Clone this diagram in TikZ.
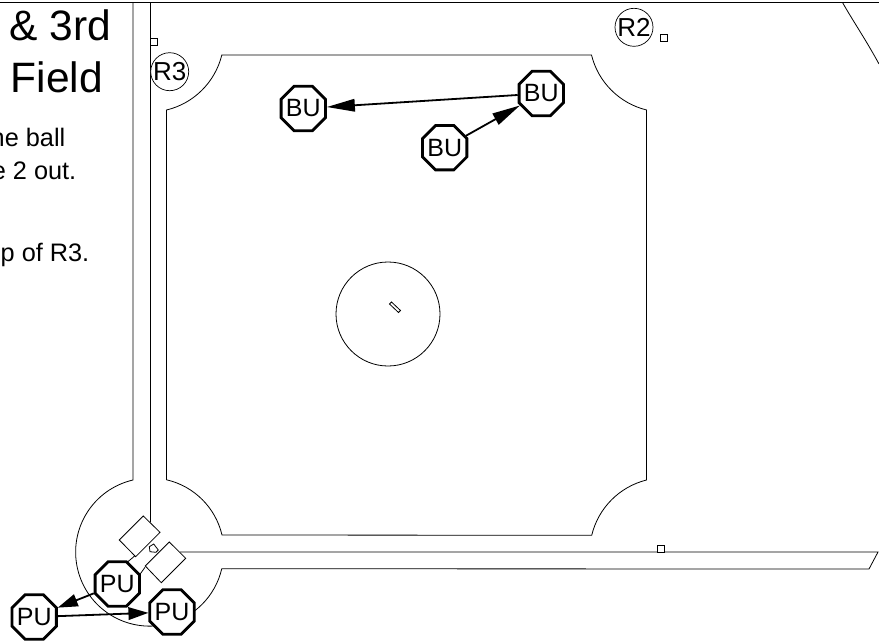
\documentclass[tikz,border=0pt]{standalone}
\usepackage{fontspec}
\setmainfont{Liberation Sans}
\usetikzlibrary{arrows.meta,shapes.geometric}
\tikzset{
  fieldline/.style={draw=black,line width=.8pt},
  basebox/.style={draw=black,line width=.8pt,fill=white},
  umpire/.style={regular polygon,regular polygon sides=8,draw=black,fill=white,line width=2.8pt,minimum size=48pt,inner sep=-8pt,font=\fontsize{25}{26}\selectfont},
  runner/.style={circle,draw=black,fill=white,line width=.7pt,minimum size=38pt,inner sep=-4pt,font=\fontsize{26}{27}\selectfont},
  move/.style={-{Triangle[length=28pt,width=12.5pt]},draw=black,line width=1.8pt},
  shortmove/.style={-{Triangle[length=20pt,width=12.5pt]},draw=black,line width=1.8pt},
  headline/.style={anchor=base east,font=\fontsize{42.5}{44}\selectfont,inner sep=0pt},
  note/.style={anchor=base east,font=\fontsize{25.3}{26}\selectfont,inner sep=0pt}
}
\begin{document}
\begin{tikzpicture}[x=1pt,y=-1pt]
  \useasboundingbox (0,0) rectangle (879,641);
  % top edge and the outfield corner
  \draw[fieldline] (0,2.5) -- (879,2.5);
  \draw[fieldline] (842.5,2.5) .. controls (853,21) and (866,40) .. (879,64);
  % foul territory with home circle
  \draw[fieldline] (133,2.5) -- (133,480) arc[start angle=-103,end angle=-347,radius=74] -- (869,569) -- (878,552) -- (180,552);
  \draw[fieldline] (150,2.5) -- (150,521.5);
  % infield
  \draw[fieldline] (166.5,480) -- (166.5,110) arc[start angle=76.5,end angle=13.8,radius=75]
    -- (591.5,55) arc[start angle=166.2,end angle=103.8,radius=75]
    -- (646.5,480) arc[start angle=-104,end angle=-166.5,radius=75]
    -- (222,535) arc[start angle=-13.2,end angle=-76.7,radius=74];
  % mound
  \draw[fieldline] (388,314) circle[radius=52];
  \draw[fieldline] (391.5,302) -- (400.5,310.5) -- (398.5,312.5) -- (389.5,304) -- cycle;
  % bases
  \draw[basebox] (150,38.5) rectangle (157,45.5);
  \draw[basebox] (660.5,34.5) rectangle (667.5,41.5);
  \draw[basebox] (657,545) rectangle (664,552);
  % batter boxes and plate
  \draw[fieldline] (135,555.7) -- (126.7,562.7);
  \draw[fieldline] (145,567.3) -- (140,574.3);
  \draw[basebox] (143.3,516) -- (160,532.3) -- (135.7,556.7) -- (119.3,540) -- cycle;
  \draw[basebox] (169.3,542) -- (185.7,558.3) -- (161.3,582.7) -- (145.3,566) -- cycle;
  \draw[basebox] (149.3,546.7) -- (153.7,544) -- (158.3,550) -- (156,552.3) -- (150,551.7) -- cycle;
  % text
  \node[headline] (title1) at (111.5,40.7) {\& 3rd};
  \node[headline] (title2) at (103,92.7) {Field};
  \node[note] (note1) at (65.5,146) {ne ball};
  \node[note] (note2) at (76.5,179.3) {e 2 out.};
  \node[note] (note3) at (89.5,261.7) {p of R3.};
  % runners
  \node[runner] (rtwo) at (634,27.3) {R2};
  \node[runner] (rthree) at (169.7,71.7) {R3};
  % umpires
  \node[umpire] (buleft) at (303.3,108.5) {BU};
  \node[umpire] (buright) at (541.3,93.5) {BU};
  \node[umpire] (bulow) at (444.7,147.7) {BU};
  \node[umpire] (putop) at (117.3,584) {PU};
  \node[umpire] (puleft) at (34.2,617) {PU};
  \node[umpire] (puright) at (172,612) {PU};
  \draw[move] (bulow) -- (buright);
  \draw[move] (buright) -- (buleft);
  \draw[shortmove] (putop) -- (puleft);
  \draw[shortmove] (puleft) -- (puright);
\end{tikzpicture}
\end{document}
